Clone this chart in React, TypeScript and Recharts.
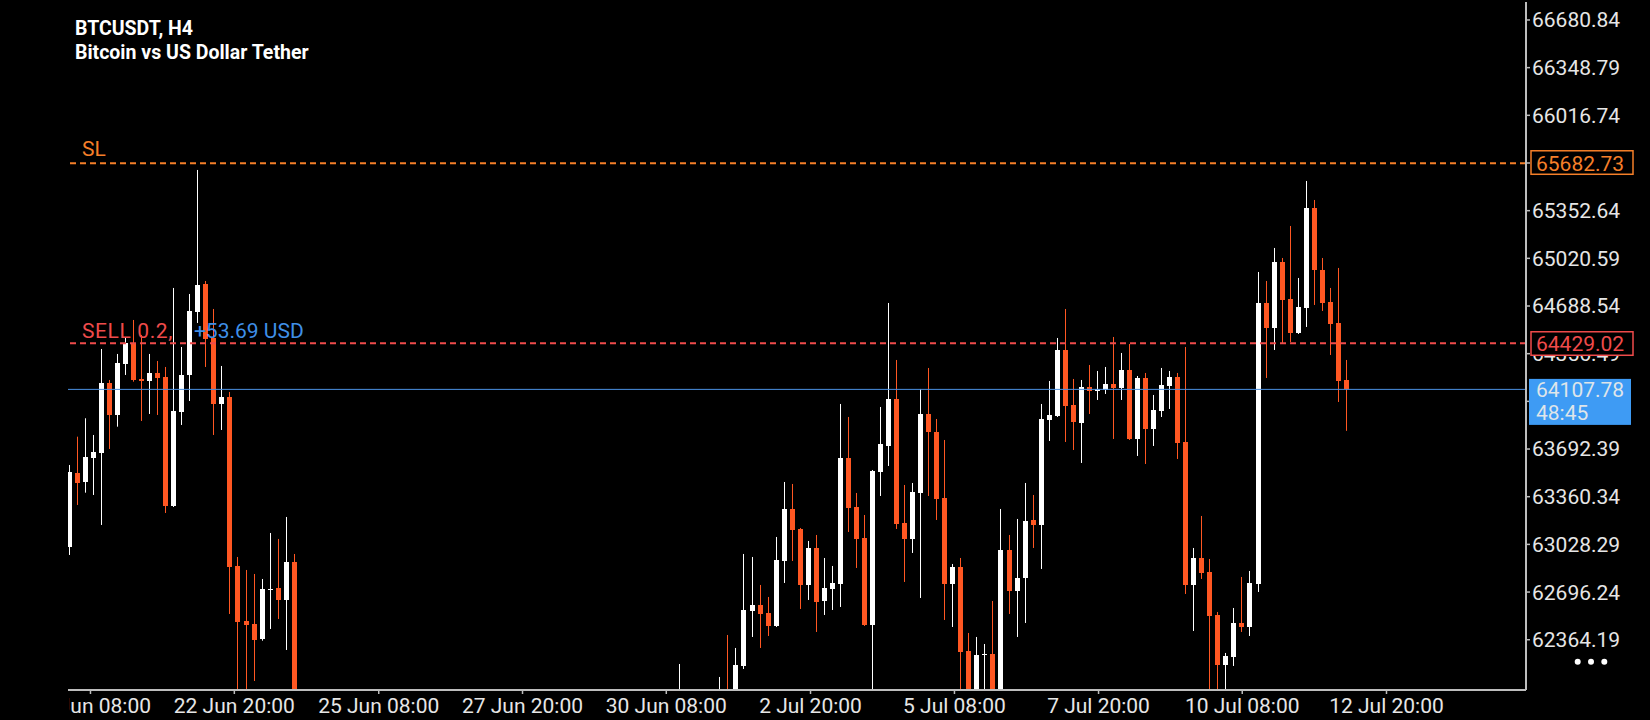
import React from 'react';
import { ComposedChart, Bar, XAxis, YAxis, ReferenceLine } from 'recharts';

// ---------- data ----------
const opens = [
  63010.2, 63523.5, 63465.0, 63632.2, 63667.0, 64152.5, 63929.6, 64284.8, 64431.1, 64180.3,
  64168.5, 64222.1, 64194.3, 63295.7, 63950.5, 64208.2, 64647.0, 64842.0, 64465.9, 64006.2,
  64055.0, 62877.8, 62496.8, 62473.9, 62369.4, 62710.7, 62724.6, 62641.0, 62905.7, 61850,
  61720, 61580, 61640, 61490, 61410, 61520, 61380, 61290, 61350, 61210,
  61140, 61260, 61180, 61050, 61120, 61230, 61170, 61310, 61250, 61380,
  61330, 61460, 61410, 61290, 61360, 61480, 61430, 61550, 61500, 61390,
  61450, 61580, 61520, 61640, 61600, 61710, 61650, 61560, 61620, 61740,
  61690, 61800, 61760, 61650, 61710, 61820, 61790, 61930, 61820, 61760,
  61850, 61900, 61980, 61890, 62181.3, 62566.5, 62608.3, 62552.6, 62459.9, 62912.7,
  63274.8, 63135.5, 62745.5, 63003.2, 62634.0, 62717.6, 62752.5, 63630.1, 63288.8, 63072.9,
  62466.9, 63532.6, 63713.7, 64041.0, 63177.3, 63065.9, 63386.3, 63936.5, 63811.2, 63351.5,
  62752.5, 62870.9, 62285.8, 61975, 62259, 62264.9, 61985, 62989.3, 62703.7, 62794.2,
  63198.2, 63163.4, 63894.8, 63922.6, 64382.3, 63999.2, 63873.9, 64124.6, 64096.7, 64103.7,
  64145.5, 64117.6, 64243.0, 63762.4, 64187.3, 63832.1, 63957.4, 64131.6, 64194.3, 63741.5,
  62745.5, 62933.6, 62836.0, 62536.5, 62188.3, 62244.0, 62480.8, 62452.9, 62752.5, 64709.7,
  64535.5, 64995.3, 64737.5, 64500.7, 64674.8, 65371.4, 64939.5, 64716.6, 64570.4, 64173.4,
];
const highs = [
  63581.3, 63778.4, 63906.6, 63790.3, 64389.3, 64173.4, 64354.5, 64468.0, 64591.3, 64486.8,
  64354.5, 64305.7, 64263.9, 64814.2, 64403.2, 64772.4, 65636.1, 64862.9, 64667.9, 64270.9,
  64089.8, 62940.5, 62850.0, 62822.1, 62787.3, 63107.7, 63065.9, 63219.1, 62961.4, 61905,
  61760, 61690, 61665, 61530, 61570, 61545, 61420, 61400, 61370, 61250,
  61300, 61290, 61200, 61160, 61270, 61260, 61350, 61330, 61420, 61400,
  61500, 61490, 61440, 61400, 61520, 61510, 61590, 61580, 61530, 61490,
  61620, 61610, 61680, 61670, 61750, 61740, 61680, 61660, 61780, 61770,
  61840, 61830, 61790, 61750, 61860, 61850, 62195.2, 61985, 61900, 61880,
  61960, 62104.7, 62397.2, 62306.7, 62961.4, 62940.5, 62745.5, 62661.9, 63079.8, 63462.9,
  63449.0, 63142.5, 63052.0, 63093.8, 62933.6, 62877.8, 64006.2, 63915.6, 63386.3, 63233.1,
  63546.5, 63985.3, 64709.7, 64312.7, 63442.0, 63455.9, 64110.7, 64256.9, 63901.7, 63755.4,
  62891.8, 62933.6, 62411.2, 62383.3, 62334.5, 62634.0, 63274.8, 63093.8, 63205.2, 63455.9,
  63372.4, 64006.2, 64166.4, 64465.9, 64667.9, 64180.3, 64173.4, 64277.8, 64236.0, 64263.9,
  64472.9, 64361.4, 64424.1, 64201.2, 64222.1, 64068.9, 64256.9, 64236.0, 64222.1, 64403.2,
  63003.2, 63226.1, 62926.6, 62557.4, 62271.9, 62585.3, 62801.2, 62843.0, 64925.6, 64862.9,
  65092.8, 65023.1, 65246.0, 64883.8, 65559.4, 65427.1, 65023.1, 64814.2, 64953.5, 64312.7,
];
const lows = [
  62954.4, 63302.7, 63388.4, 63372.4, 63163.4, 63692.8, 63848.1, 64208.2, 64161.5, 63887.8,
  63936.5, 63929.6, 63247.0, 63288.8, 63859.9, 64027.1, 64570.4, 64263.9, 63790.3, 63825.1,
  62543.5, 61944.5, 61979.3, 62076.8, 62357.5, 62439.0, 62508.7, 62292.8, 61760, 61660,
  61530, 61540, 61440, 61360, 61390, 61330, 61240, 61260, 61160, 61090,
  61110, 61130, 60990, 61010, 61090, 61120, 61140, 61200, 61220, 61280,
  61300, 61360, 61240, 61250, 61330, 61380, 61400, 61450, 61340, 61360,
  61420, 61470, 61490, 61550, 61570, 61600, 61510, 61530, 61590, 61640,
  61660, 61710, 61600, 61620, 61680, 61740, 61760, 61780, 61700, 61690,
  61800, 61850, 61840, 61860, 62160.4, 62383.3, 62306.7, 62390.3, 62452.9, 62759.4,
  62912.7, 62578.3, 62641.0, 62418.1, 62536.5, 62571.4, 62592.3, 63114.6, 62863.9, 62459.9,
  62000.2, 63365.4, 63574.4, 63135.5, 62766.4, 62968.4, 62654.9, 63365.4, 63198.2, 62501.7,
  62452.9, 61979.3, 61900, 61930, 61960, 61940, 61950, 62543.5, 62383.3, 62480.8,
  63003.2, 62856.9, 63748.5, 63915.6, 63741.5, 63685.8, 63595.2, 63936.5, 64034.1, 64075.8,
  63762.4, 64034.1, 63755.4, 63644.0, 63588.3, 63713.7, 63915.6, 63971.4, 63623.1, 62682.8,
  62425.1, 62787.3, 61950, 61960, 61990, 62181.3, 62418.1, 62390.3, 62696.7, 64187.3,
  64382.3, 64431.1, 64438.0, 64493.8, 64542.5, 64695.7, 64654.0, 64347.5, 64020.1, 63819.1,
];
const closes = [
  63532.6, 63458.0, 63637.0, 63671.9, 64152.5, 63929.6, 64291.8, 64431.1, 64173.4, 64168.5,
  64222.1, 64187.3, 63295.7, 63957.4, 64208.2, 64654.0, 64835.1, 64458.9, 64006.2, 64055.0,
  62873.0, 62489.9, 62469.0, 62364.5, 62717.6, 62717.6, 62641.0, 62905.7, 61850, 61720,
  61580, 61640, 61490, 61410, 61520, 61380, 61290, 61350, 61210, 61140,
  61260, 61180, 61050, 61120, 61230, 61170, 61310, 61250, 61380, 61330,
  61460, 61410, 61290, 61360, 61480, 61430, 61550, 61500, 61390, 61450,
  61580, 61520, 61640, 61600, 61710, 61650, 61560, 61620, 61740, 61690,
  61800, 61760, 61650, 61710, 61820, 61790, 61930, 61820, 61760, 61850,
  61900, 61980, 61890, 62188.3, 62571.4, 62608.3, 62543.5, 62459.9, 62919.6, 63274.8,
  63128.6, 62745.5, 63003.2, 62627.1, 62724.6, 62759.4, 63630.1, 63281.8, 63065.9, 62466.9,
  63539.5, 63727.6, 64041.0, 63170.4, 63065.9, 63393.3, 63936.5, 63811.2, 63344.5, 62752.5,
  62870.9, 62278.8, 61960, 62257.9, 62265, 61980, 62989.3, 62703.7, 62794.2, 63191.3,
  63163.4, 63901.7, 63929.6, 64382.3, 63992.3, 63880.8, 64124.6, 64096.7, 64110.7, 64145.5,
  64117.6, 64243.0, 63762.4, 64187.3, 63832.1, 63964.4, 64138.5, 64194.3, 63734.6, 62745.5,
  62933.6, 62829.1, 62529.6, 62188.3, 62251.0, 62480.8, 62452.9, 62759.4, 64709.7, 64535.5,
  64995.3, 64730.6, 64500.7, 64681.8, 65371.4, 64939.5, 64709.7, 64563.4, 64166.4, 64107.78,
];

const xTickPositions = [2.76, 20.67, 38.65, 56.55, 74.45, 92.41, 110.33, 128.27, 146.16, 164.12];
const xTickLabels = [
  '20 Jun 08:00', '22 Jun 20:00', '25 Jun 08:00', '27 Jun 20:00', '30 Jun 08:00',
  '2 Jul 20:00', '5 Jul 08:00', '7 Jul 20:00', '10 Jul 08:00', '12 Jul 20:00',
];
const yTicks = [
  66680.84, 66348.79, 66016.74, 65684.69, 65352.64, 65020.59, 64688.54,
  64356.49, 64024.44, 63692.39, 63360.34, 63028.29, 62696.24, 62364.19,
];
const yDomain = [62014, 66806];
const xDomain = [-0.04, 181.49];

const titleLines = ['BTCUSDT, H4', 'Bitcoin vs US Dollar Tether'];
const slPrice = 65682.73;
const slText = 'SL';
const sellPrice = 64429.02;
const sellText = 'SELL 0.2,';
const profitText = '+53.69 USD';
const bidPrice = 64107.78;
const timerText = '48:45';

// ---------- styles ----------
const FONT = 'Roboto, "DejaVu Sans", sans-serif';
const BULL = '#ffffff';
const BEAR = '#ff5722';
const SL_COLOR = '#f57f29';
const SELL_COLOR = '#ef4b4b';
const PROFIT_COLOR = '#3f8fe8';
const BID_LINE = '#4a90e2';
const BID_BOX = '#3e9bf4';
const AXIS_COLOR = '#bdbdbd';
const TEXT_COLOR = '#e6e6e6';
const PLOT_LEFT = 68;
const W = 1650;
const H = 720;
const MARGIN = { top: 2, right: 0, bottom: 0, left: PLOT_LEFT };

const data = opens.map((o, i) => ({
  i,
  range: [lows[i], highs[i]],
  open: o,
  high: highs[i],
  low: lows[i],
  close: closes[i],
}));

const Candle = (props: any) => {
  const { x, y, width, height, payload } = props;
  if (!payload || height == null) return null;
  const { open, close, high, low } = payload;
  const per = height / (high - low);
  const yOf = (v: number) => y + (high - v) * per;
  const up = close >= open;
  const color = up ? BULL : BEAR;
  const cx = Math.round(x + width / 2);
  const top = yOf(Math.max(open, close));
  const bot = yOf(Math.min(open, close));
  const bTop = Math.round(top);
  const bH = Math.max(Math.round(bot) - bTop, 1);
  return (
    <g>
      <line x1={cx + 0.5} x2={cx + 0.5} y1={y} y2={y + height} stroke={color} strokeWidth={1} />
      <rect x={cx - 2} y={bTop} width={5} height={bH} fill={color} />
    </g>
  );
};

const XTick = (props: any) => {
  const { x, y, index } = props;
  const id = `xtick-clip-${index}`;
  return (
    <g>
      <defs>
        <clipPath id={id}>
          <rect x={PLOT_LEFT + 1} y={y - 10} width={1600} height={40} />
        </clipPath>
      </defs>
      <text
        x={x}
        y={y + 17}
        textAnchor="middle"
        fill={TEXT_COLOR}
        fontSize={21}
        fontFamily={FONT}
        clipPath={`url(#${id})`}
      >
        {xTickLabels[index]}
      </text>
    </g>
  );
};

// left-side line captions (drawn under the candles)
const SLCaption = (props: any) => {
  const vb = props.viewBox;
  if (!vb) return null;
  return (
    <text x={vb.x + 14} y={vb.y - 7} fill={SL_COLOR} fontSize={21} fontFamily={FONT}>{slText}</text>
  );
};

const SellCaption = (props: any) => {
  const vb = props.viewBox;
  if (!vb) return null;
  return (
    <text x={vb.x + 14} y={vb.y - 5.5} fontSize={21} fontFamily={FONT}>
      <tspan fill={SELL_COLOR} letterSpacing={0.6}>{sellText}</tspan>
      <tspan fill={PROFIT_COLOR} dx={21}>{profitText}</tspan>
    </text>
  );
};

// right-side price boxes (drawn in an overlay chart, above the axis labels)
const SLBox = (props: any) => {
  const vb = props.viewBox;
  if (!vb) return null;
  const right = vb.x + vb.width;
  return (
    <g>
      <rect x={right + 5} y={vb.y - 12.5} width={102} height={23.5} fill="#000" stroke={SL_COLOR} strokeWidth={1.5} />
      <text x={right + 10} y={vb.y + 7.5} fill={SL_COLOR} fontSize={21} fontFamily={FONT}>{slPrice.toFixed(2)}</text>
    </g>
  );
};

const SellBox = (props: any) => {
  const vb = props.viewBox;
  if (!vb) return null;
  const right = vb.x + vb.width;
  return (
    <g>
      <rect x={right + 5} y={vb.y - 11.5} width={102} height={23.5} fill="#000" stroke={SELL_COLOR} strokeWidth={1.5} />
      <text x={right + 10} y={vb.y + 8} fill={SELL_COLOR} fontSize={21} fontFamily={FONT}>{sellPrice.toFixed(2)}</text>
    </g>
  );
};

const BidBox = (props: any) => {
  const vb = props.viewBox;
  if (!vb) return null;
  const right = vb.x + vb.width;
  return (
    <g>
      <rect x={right + 3} y={vb.y - 10.5} width={102} height={46} fill={BID_BOX} />
      <text x={right + 10} y={vb.y + 8} fill="#dfe5ea" fontSize={21} fontFamily={FONT}>{bidPrice.toFixed(2)}</text>
      <text x={right + 10} y={vb.y + 31} fill="#dfe5ea" fontSize={21} fontFamily={FONT}>{timerText}</text>
    </g>
  );
};

export default function App() {
  return (
    <div style={{ position: 'fixed', left: 0, top: 0, width: W, height: H, background: '#000', overflow: 'hidden' }}>
      <div style={{ position: 'absolute', left: 0, top: 0 }}>
        <ComposedChart width={W} height={H} data={data} margin={MARGIN} style={{ fontFamily: FONT }}>
          <XAxis
            xAxisId="top"
            orientation="top"
            type="number"
            dataKey="i"
            domain={xDomain}
            allowDataOverflow
            height={0}
            tick={false}
            tickLine={false}
            axisLine={{ stroke: AXIS_COLOR, strokeWidth: 2 }}
          />
          <XAxis
            type="number"
            dataKey="i"
            domain={xDomain}
            allowDataOverflow
            ticks={xTickPositions}
            interval={0}
            height={30}
            tickSize={4}
            tick={<XTick />}
            tickLine={{ stroke: AXIS_COLOR, strokeWidth: 1.5 }}
            axisLine={{ stroke: AXIS_COLOR, strokeWidth: 2 }}
          />
          <YAxis
            orientation="right"
            type="number"
            domain={yDomain}
            allowDataOverflow
            ticks={yTicks}
            interval={0}
            width={124}
            tickSize={4}
            tickMargin={2}
            tickFormatter={(v: number) => v.toFixed(2)}
            tick={{ fill: TEXT_COLOR, fontSize: 21, fontFamily: FONT }}
            tickLine={{ stroke: AXIS_COLOR, strokeWidth: 1.5 }}
            axisLine={{ stroke: AXIS_COLOR, strokeWidth: 2 }}
          />
          <ReferenceLine
            y={slPrice}
            stroke={SL_COLOR}
            strokeWidth={2}
            strokeDasharray="6 4"
            label={(p: any) => <SLCaption {...p} />}
          />
          <ReferenceLine
            y={sellPrice}
            stroke={SELL_COLOR}
            strokeWidth={2}
            strokeDasharray="6 4"
            label={(p: any) => <SellCaption {...p} />}
          />
          <ReferenceLine y={bidPrice} stroke={BID_LINE} strokeWidth={1} />
          <Bar dataKey="range" barSize={5} shape={<Candle />} isAnimationActive={false} />
        </ComposedChart>
      </div>
      {/* overlay chart with the same scales: price boxes on the right axis */}
      <div style={{ position: 'absolute', left: 0, top: 0 }}>
        <ComposedChart width={W} height={H} data={data} margin={MARGIN} style={{ fontFamily: FONT }}>
          <XAxis xAxisId="top" orientation="top" type="number" dataKey="i" domain={xDomain} allowDataOverflow height={0} tick={false} tickLine={false} axisLine={false} />
          <XAxis type="number" dataKey="i" domain={xDomain} allowDataOverflow height={30} tick={false} tickLine={false} axisLine={false} />
          <YAxis orientation="right" type="number" domain={yDomain} allowDataOverflow width={124} tick={false} tickLine={false} axisLine={false} />
          <ReferenceLine y={slPrice} stroke="none" label={(p: any) => <SLBox {...p} />} />
          <ReferenceLine y={sellPrice} stroke="none" label={(p: any) => <SellBox {...p} />} />
          <ReferenceLine y={bidPrice} stroke="none" label={(p: any) => <BidBox {...p} />} />
        </ComposedChart>
      </div>
      <div
        style={{
          position: 'absolute',
          left: 75,
          top: 17,
          color: '#ffffff',
          fontFamily: FONT,
          fontWeight: 700,
          fontSize: 19.5,
          lineHeight: '24px',
          whiteSpace: 'nowrap',
        }}
      >
        {titleLines.map((t) => (
          <div key={t}>{t}</div>
        ))}
      </div>
      <svg style={{ position: 'absolute', left: 1570, top: 655 }} width={42} height={14}>
        <circle cx={7.7} cy={6.7} r={3} fill="#fff" />
        <circle cx={21} cy={6.7} r={3} fill="#fff" />
        <circle cx={34.3} cy={6.7} r={3} fill="#fff" />
      </svg>
    </div>
  );
}
